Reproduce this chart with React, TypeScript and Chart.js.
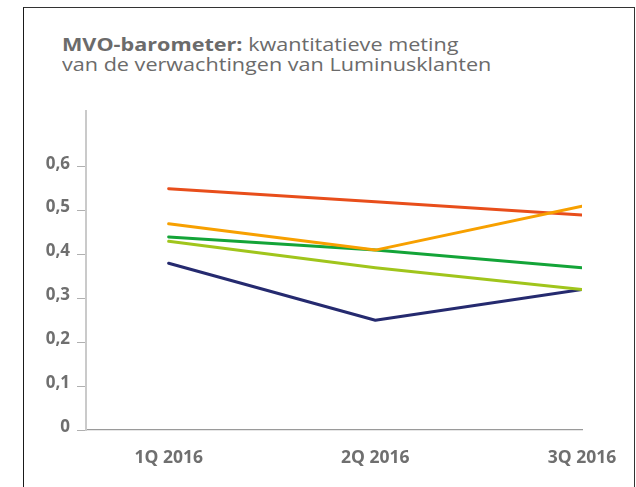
import React, { useEffect, useRef } from "react";
import { Chart, registerables } from "chart.js";

Chart.register(...registerables);

const categories = ["1Q 2016", "2Q 2016", "3Q 2016"];
const yTickValues = [0, 0.1, 0.2, 0.3, 0.4, 0.5, 0.6];
const yMax = 0.727;

const redSeries = [0.55, 0.52, 0.49];
const orangeSeries = [0.47, 0.41, 0.51];
const greenSeries = [0.44, 0.41, 0.37];
const limeSeries = [0.43, 0.37, 0.32];
const navySeries = [0.38, 0.25, 0.32];

const seriesColors = {
  red: "#e84e1b",
  orange: "#f7a000",
  green: "#13a438",
  lime: "#a0c51c",
  navy: "#252a6f",
};

const toPoints = (vals: number[]) => vals.map((v, i) => ({ x: i, y: v }));

export default function App() {
  const ref = useRef<HTMLCanvasElement | null>(null);

  useEffect(() => {
    if (!ref.current) return;
    const mk = (label: string, vals: number[], color: string) => ({
      label,
      data: toPoints(vals),
      borderColor: color,
      backgroundColor: color,
      borderWidth: 3,
      pointRadius: 0,
      borderCapStyle: "round" as const,
      borderJoinStyle: "round" as const,
      tension: 0,
    });
    const chart = new Chart(ref.current, {
      type: "line",
      data: {
        datasets: [
          mk("orange", orangeSeries, seriesColors.orange),
          mk("red", redSeries, seriesColors.red),
          mk("green", greenSeries, seriesColors.green),
          mk("lime", limeSeries, seriesColors.lime),
          mk("navy", navySeries, seriesColors.navy),
        ],
      },
      options: {
        animation: false,
        responsive: false,
        devicePixelRatio: 1,
        layout: { padding: { top: 111, right: 54, left: 0, bottom: 0 } },
        plugins: { legend: { display: false }, tooltip: { enabled: false }, title: { display: false } },
        scales: {
          x: {
            type: "linear",
            min: -0.4,
            max: 2,
            afterBuildTicks: (s: any) => {
              s.ticks = categories.map((_, i) => ({ value: i }));
            },
            afterFit: (s: any) => {
              s.height = 57;
            },
            ticks: {
              callback: (v: any) => categories[v as number] ?? "",
              font: { family: "'Open Sans'", size: 17.5, weight: "bold" },
              color: "#6f6f6f",
              padding: 18,
              maxRotation: 0,
              autoSkip: false,
            },
            grid: { display: true, drawOnChartArea: false, drawTicks: false, color: "rgba(0,0,0,0)" },
            border: { display: true, color: "#9a9a9a", width: 1.2 },
          },
          y: {
            type: "linear",
            min: 0,
            max: yMax,
            afterBuildTicks: (s: any) => {
              s.ticks = yTickValues.map((v) => ({ value: v }));
            },
            afterFit: (s: any) => {
              s.width = 86;
            },
            ticks: {
              callback: (v: any) => String(v).replace(".", ","),
              font: { family: "'Open Sans'", size: 17, weight: "bold" },
              color: "#6f6f6f",
              padding: 7,
              labelOffset: -3,
            },
            grid: { display: true, drawOnChartArea: false, drawTicks: true, tickLength: 9, color: "#b0b0b0", lineWidth: 1 },
            border: { display: true, color: "#cacaca", width: 2 },
          },
        },
      },
    });
    return () => chart.destroy();
  }, []);

  return (
    <div style={{ position: "fixed", left: 0, top: 0, width: 636, height: 487, background: "#fff", overflow: "hidden" }}>
      <div
        style={{
          position: "absolute",
          left: 23,
          top: 7,
          width: 610,
          height: 600,
          borderLeft: "1px solid #1a1a1a",
          borderTop: "1px solid #333",
          borderRight: "1px solid #333",
        }}
      />
      <div
        style={{
          position: "absolute",
          left: 62,
          top: 34,
          fontFamily: "'Open Sans', sans-serif",
          fontSize: 18,
          lineHeight: "20px",
          color: "#6b6b6b",
          whiteSpace: "nowrap",
          transform: "scaleX(1.2)",
          transformOrigin: "left top",
        }}
      >
        <div>
          <span style={{ fontWeight: "bold" }}>MVO-barometer:</span> kwantitatieve meting
        </div>
        <div>van de verwachtingen van Luminusklanten</div>
      </div>
      <canvas ref={ref} width={636} height={487} style={{ position: "absolute", left: 0, top: 0 }} />
    </div>
  );
}
